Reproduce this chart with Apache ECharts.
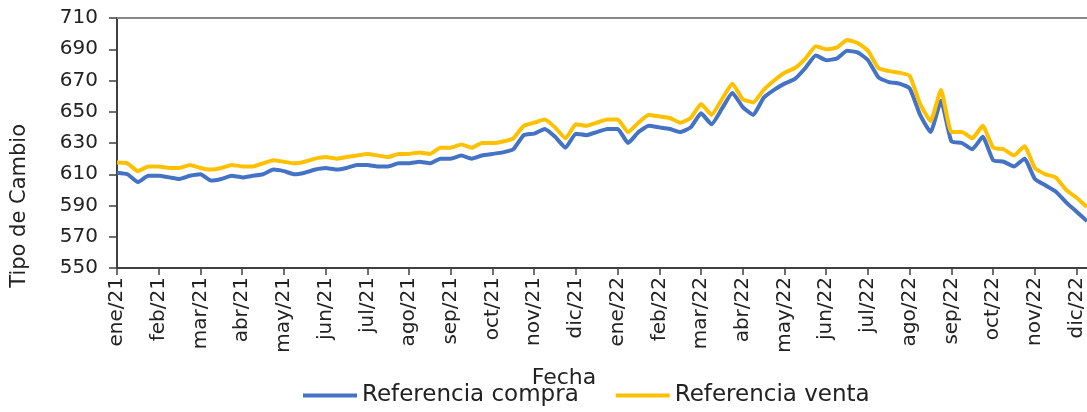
<!DOCTYPE html>
<html>
<head>
<meta charset="utf-8">
<script src="https://cdn.jsdelivr.net/npm/echarts@6/dist/echarts.min.js"></script>
<style>
  html, body { margin: 0; padding: 0; background: #fff; }
  #chart { width: 1087px; height: 412px; }
</style>
</head>
<body>
<div id="chart"></div>
<script>
// month labels, one tick per month; 4 samples per month
const monthLabels = ['ene/21', 'feb/21', 'mar/21', 'abr/21', 'may/21', 'jun/21', 'jul/21', 'ago/21',
    'sep/21', 'oct/21', 'nov/21', 'dic/21', 'ene/22', 'feb/22', 'mar/22', 'abr/22', 'may/22',
    'jun/22', 'jul/22', 'ago/22', 'sep/22', 'oct/22', 'nov/22', 'dic/22'];

const compra = [611, 610, 605, 609, 609, 608, 607, 609, 610, 606, 607, 609, 608, 609, 610, 613,
    612, 610, 611, 613, 614, 613, 614, 616, 616, 615, 615, 617, 617, 618, 617, 620,
    620, 622, 620, 622, 623, 624, 626, 635, 636, 639, 634, 627, 636, 635, 637, 639,
    639, 630, 637, 641, 640, 639, 637, 640, 649, 642, 652, 662, 653, 648, 659, 664,
    668, 671, 678, 686, 683, 684, 689, 688, 683, 672, 669, 668, 665, 648, 637, 657,
    631, 630, 626, 634, 619, 618, 615, 620, 607, 603, 599, 592, 586, 580];

const venta = [617.5, 617, 612, 615, 615, 614, 614, 616, 614, 613, 614, 616, 615, 615, 617, 619,
    618, 617, 618, 620, 621, 620, 621, 622, 623, 622, 621, 623, 623, 624, 623, 627,
    627, 629, 627, 630, 630, 631, 633, 641, 643, 645, 640, 633, 642, 641, 643, 645,
    645, 637, 643, 648, 647, 646, 643, 646, 655, 648, 658, 668, 658, 656, 664, 670,
    675, 678, 684, 692, 690, 691, 696, 694, 689, 678, 676, 675, 673, 655, 644, 664,
    637, 637, 633, 641, 627, 626, 622, 628, 614, 610, 608, 600, 595, 589];

const categories = compra.map((v, i) => (i % 4 === 0 ? monthLabels[i / 4] : ''));

const font = 'DejaVu Sans';
const chart = echarts.init(document.getElementById('chart'));
chart.setOption({
    animation: false,
    textStyle: { fontFamily: font },
    grid: {
        left: 117,
        right: 0,
        top: 18,
        bottom: 144
    },
    xAxis: [{
        type: 'category',
        data: categories,
        boundaryGap: false,
        name: 'Fecha',
        nameLocation: 'middle',
        nameGap: 99,
        nameTextStyle: { fontSize: 22, color: '#222', fontFamily: font, padding: [0, 76, 0, 0] },
        axisLine: { lineStyle: { color: '#404040', width: 2 } },
        axisTick: { interval: 3, length: 7, lineStyle: { color: '#404040', width: 1.5 } },
        axisLabel: {
            interval: 3,
            rotate: 90,
            fontSize: 20,
            color: '#222',
            margin: 9,
            fontFamily: font
        },
        splitLine: { show: false }
    }, {
        type: 'category',
        position: 'top',
        data: categories,
        boundaryGap: false,
        axisLine: { lineStyle: { color: '#888', width: 2 } },
        axisTick: { show: false },
        axisLabel: { show: false }
    }],
    yAxis: {
        type: 'value',
        min: 550,
        max: 710,
        interval: 20,
        axisLine: { show: true, lineStyle: { color: '#404040', width: 2 } },
        axisTick: { show: true, length: 8, lineStyle: { color: '#404040', width: 1.5 } },
        axisLabel: { fontSize: 20, color: '#222', margin: 19, fontFamily: font },
        splitLine: { show: false }
    },
    legend: {
        bottom: 0,
        left: 298,
        itemWidth: 54,
        itemHeight: 4,
        itemGap: 37,
        icon: 'rect',
        textStyle: { fontSize: 23, color: '#222', fontFamily: font },
        data: ['Referencia compra', 'Referencia venta']
    },
    graphic: [{
        type: 'text',
        left: 9,
        top: 124,
        rotation: Math.PI / 2,
        style: {
            text: 'Tipo de Cambio',
            font: '21px "DejaVu Sans"',
            fill: '#222'
        }
    }],
    series: [{
        name: 'Referencia compra',
        type: 'line',
        data: compra,
        symbol: 'none',
        smooth: 0.15,
        lineStyle: { color: '#4472C4', width: 4 },
        itemStyle: { color: '#4472C4' }
    }, {
        name: 'Referencia venta',
        type: 'line',
        data: venta,
        symbol: 'none',
        smooth: 0.15,
        lineStyle: { color: '#FFC000', width: 4 },
        itemStyle: { color: '#FFC000' }
    }]
});
</script>
</body>
</html>
